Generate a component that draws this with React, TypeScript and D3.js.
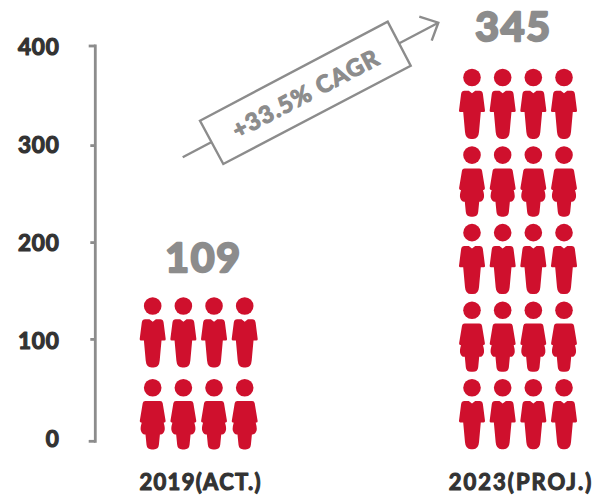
import React from "react";
import * as d3 from "d3";

// Projected headcount, one pictogram block per year.
const categories = ["2019(ACT.)", "2023(PROJ.)"];
const totals = [109, 345];
const iconRows = [2, 5];
const iconsPerRow = 4;
const axisTicks = [0, 100, 200, 300, 400];
const growthLabel = "+33.5% CAGR";

const WIDTH = 606;
const HEIGHT = 497;
const RED = "#cf102d";
const GREY = "#8c8c8c";
const DARK = "#333333";
const FONT = "Lato, sans-serif";

const axisY = d3.scaleLinear().domain(axisTicks).range([441.3, 339.4, 242.6, 145.6, 46]);
const labelY = d3.scaleLinear().domain([0, 400]).range([447, 55]);

// Horizontal placement of the icon columns and of each year's captions.
const columnStart = d3.scaleOrdinal<string, number>().domain(categories).range([152.7, 472]);
const columnStep = d3.scaleLinear().domain([0, iconsPerRow - 1]).range([0, 92]);
const captionX = d3.scaleOrdinal<string, number>().domain(categories).range([200.7, 521]);
const totalX = d3.scaleOrdinal<string, number>().domain(categories).range([203.5, 513.5]);
const totalBaseline = d3.scaleOrdinal<string, number>().domain(categories).range([271.5, 40.5]);
const captionBaseline = d3.scaleOrdinal<string, number>().domain(categories).range([489.5, 489.5]);
const stackTop = d3.scaleOrdinal<string, number>().domain(categories).range([306, 77.5]);
const STACK_BOTTOM = 387.8;

const manPath =
  "M-7.6,13.3 Q-10.4,13.3 -10.9,16.5 L-13,33 Q-13.2,34.6 -11.6,34.6 L-8.8,34.6 L-7,54.5 " +
  "Q-6.5,61.4 -1,61.4 L1,61.4 Q6.5,61.4 7,54.5 L8.8,34.6 L11.6,34.6 Q13.2,34.6 13,33 " +
  "L10.9,16.5 Q10.4,13.3 7.6,13.3 L3.2,13.3 L0,15.8 L-3.2,13.3 Z";

const womanPath =
  "M-7.4,13.3 Q-9.6,13.3 -10,15.5 L-12.9,33 Q-13.2,34.6 -11.6,34.8 L-11,35 Q-12.8,41 -11.6,43.5 " +
  "Q-10.6,46.6 -8,46.6 L-7.2,46.6 L-6.2,57 Q-5.8,61.6 -1,61.6 L1,61.6 Q5.8,61.6 6.2,57 L7.2,46.6 " +
  "L8,46.6 Q10.6,46.6 11.6,43.5 Q12.8,41 11,35 L11.6,34.8 Q13.2,34.6 12.9,33 L10,15.5 Q9.6,13.3 7.4,13.3 Z";

function Person({ x, y, kind }: { x: number; y: number; kind: "man" | "woman" }) {
  return (
    <g transform={`translate(${x},${y})`} fill={RED}>
      <circle r={8.8} />
      <path d={kind === "man" ? manPath : womanPath} />
    </g>
  );
}

// Heavy lettering: the outline thickens the installed bold face.
function HeavyText({
  color,
  weight,
  children,
  ...rest
}: React.SVGProps<SVGTextElement> & { color: string; weight: number }) {
  return (
    <text
      fill={color}
      stroke={color}
      strokeWidth={weight}
      strokeLinejoin="round"
      fontFamily={FONT}
      fontWeight={700}
      {...rest}
    >
      {children}
    </text>
  );
}

function GrowthArrow() {
  const line = d3.line();
  return (
    <g>
      <g fill="none" stroke={GREY} strokeWidth={2.4}>
        <path d={line([[182.7, 157.3], [438.3, 22.7]]) ?? ""} />
        <path d={line([[419.3, 16.7], [438.3, 22.7], [431.7, 40.7]]) ?? ""} />
        <path
          d={line([[200, 120.7], [387.7, 21.7], [410.7, 65.7], [223.3, 164]]) + "Z"}
          fill="#ffffff"
        />
      </g>
      <HeavyText
        color={GREY}
        weight={1.2}
        transform="translate(305.5,93) rotate(-27.8)"
        textAnchor="middle"
        dominantBaseline="central"
        fontSize={23.5}
        letterSpacing={1.3}
      >
        {growthLabel}
      </HeavyText>
    </g>
  );
}

export default function App() {
  return (
    <svg
      width={WIDTH}
      height={HEIGHT}
      viewBox={`0 0 ${WIDTH} ${HEIGHT}`}
      style={{ position: "absolute", left: 0, top: 0, display: "block" }}
    >
      <rect width={WIDTH} height={HEIGHT} fill="#ffffff" />

      {/* value axis */}
      <g stroke={GREY} strokeWidth={2.8} fill="none">
        <line x1={95.3} x2={95.3} y1={axisY(400) - 1.4} y2={axisY(0) + 1.4} />
        {axisTicks.map((t) => {
          const isEnd = t === 0 || t === 400;
          return <line key={t} x1={isEnd ? 88.7 : 90.3} x2={95.3} y1={axisY(t)} y2={axisY(t)} />;
        })}
      </g>
      {axisTicks.map((t) => (
        <HeavyText
          key={t}
          color={DARK}
          weight={1.2}
          x={59.5}
          y={labelY(t)}
          textAnchor="end"
          fontSize={22.5}
          letterSpacing={0.8}
        >
          {t}
        </HeavyText>
      ))}

      <GrowthArrow />

      {/* one icon block per year */}
      {categories.map((cat, c) => {
        const rows = iconRows[c];
        const rowY = d3.scaleLinear().domain([0, rows - 1]).range([stackTop(cat), STACK_BOTTOM]);
        return (
          <g key={cat}>
            {d3.range(rows).flatMap((r) =>
              d3.range(iconsPerRow).map((i) => (
                <Person
                  key={`${r}-${i}`}
                  x={columnStart(cat) + columnStep(i)}
                  y={rowY(r)}
                  kind={r % 2 === 0 ? "man" : "woman"}
                />
              ))
            )}
            <HeavyText
              color={GREY}
              weight={2.4}
              x={totalX(cat)}
              y={totalBaseline(cat)}
              textAnchor="middle"
              fontSize={41}
              letterSpacing={1.8}
            >
              {totals[c]}
            </HeavyText>
            <HeavyText
              color={DARK}
              weight={1.1}
              x={captionX(cat)}
              y={captionBaseline(cat)}
              textAnchor="middle"
              fontSize={22}
              letterSpacing={c === 0 ? 1.3 : 2}
            >
              {cat}
            </HeavyText>
          </g>
        );
      })}
    </svg>
  );
}
